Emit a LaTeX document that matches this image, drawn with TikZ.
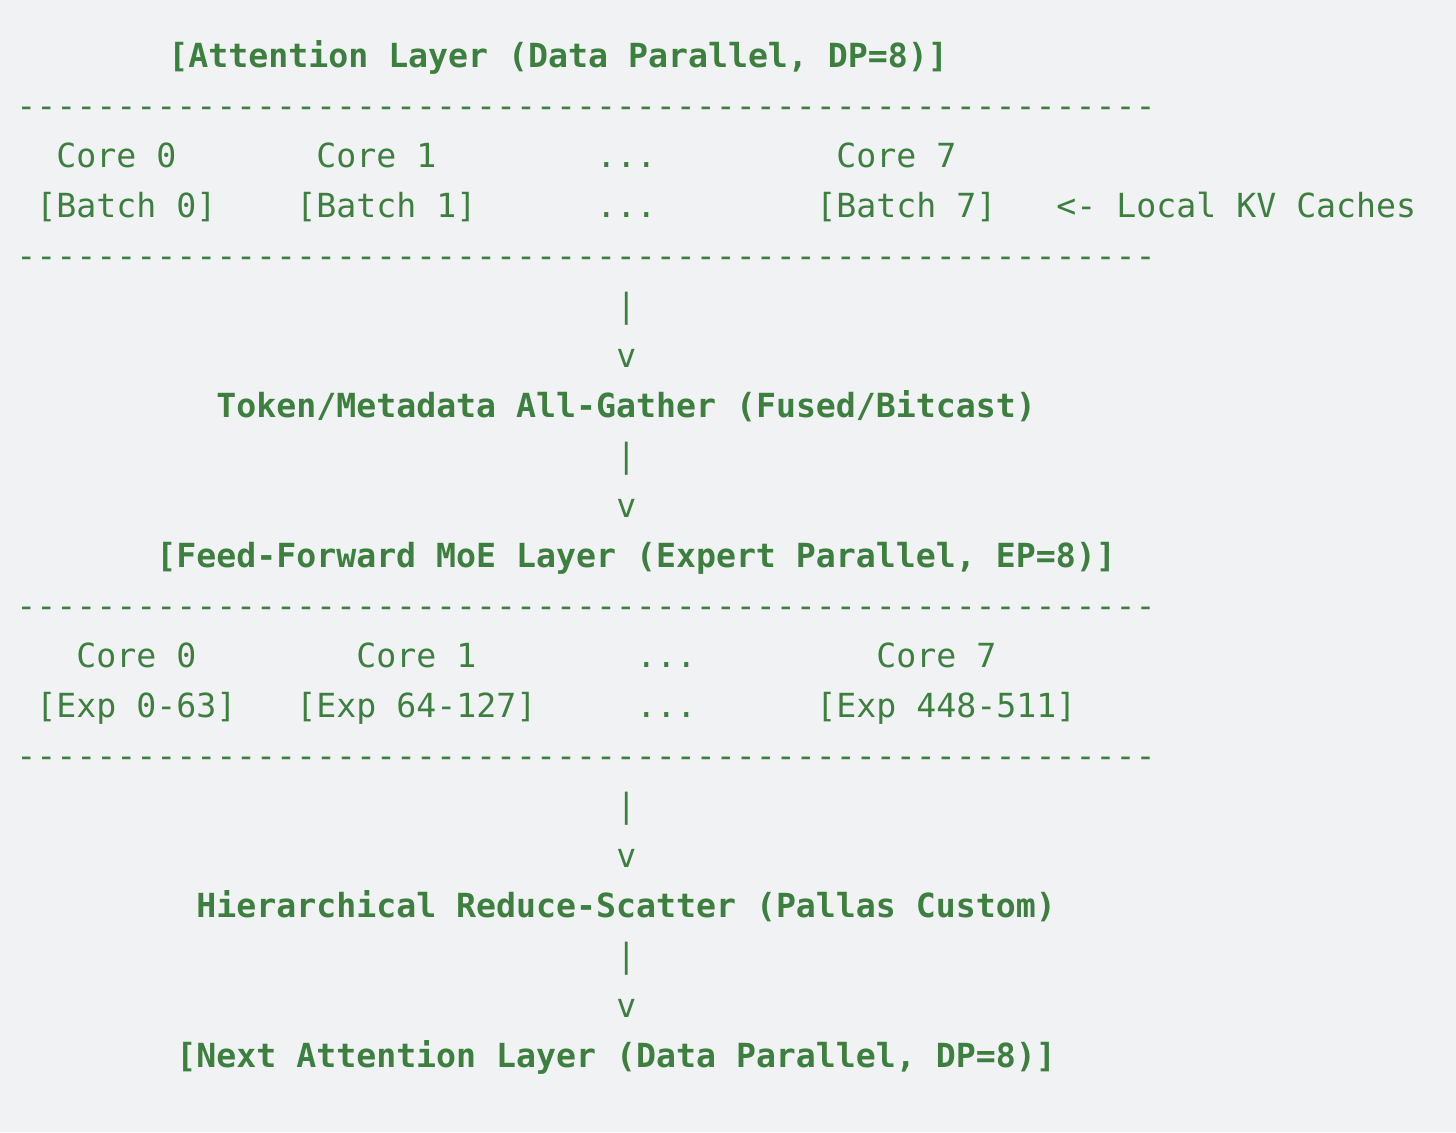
\documentclass[tikz,border=0pt]{standalone}
\usepackage{fontspec}
\setmonofont{DejaVu Sans Mono}
\usepackage{xcolor}
\definecolor{codegreen}{HTML}{3D7F3F}
\definecolor{pagegray}{HTML}{F1F2F4}
\tikzset{%
  ascii/.style={anchor=base west,inner sep=0pt,text=codegreen,
    font=\ttfamily\fontsize{16.6pt}{20pt}\selectfont},%
  asciibold/.style={ascii,font=\ttfamily\bfseries\fontsize{16.6pt}{20pt}\selectfont}%
}
\begin{document}
\begin{tikzpicture}[x=0.5pt,y=-0.5pt]%
          \fill [pagegray] (0,0) rectangle (1456,1132);%
          \useasboundingbox (0,0) rectangle (1456,1132);%
          % attention layer
          \node [asciibold] (attn) at (168,67.5) {[Attention Layer (Data Parallel, DP=8)]};%
          \node [ascii] (ruleA) at (16,117.5) {---------------------------------------------------------};%
          \node [ascii] (acore0) at (56,167.5) {Core 0};%
          \node [ascii] (acore1) at (316,167.5) {Core 1};%
          \node [ascii] (adotsA) at (596,167.5) {...};%
          \node [ascii] (acore7) at (836,167.5) {Core 7};%
          \node [ascii] (batch0) at (36,217.5) {[Batch 0]};%
          \node [ascii] (batch1) at (296,217.5) {[Batch 1]};%
          \node [ascii] (adotsB) at (596,217.5) {...};%
          \node [ascii] (batch7) at (816,217.5) {[Batch 7]};%
          \node [ascii] (kvnote) at (1056,217.5) {<- Local KV Caches};%
          \node [ascii] (ruleB) at (16,267.5) {---------------------------------------------------------};%
          % all-gather
          \node [ascii] (barA) at (616,317.5) {|};%
          \node [ascii] (tipA) at (616,367.5) {v};%
          \node [asciibold] (gather) at (216,417.5) {Token/Metadata All-Gather (Fused/Bitcast)};%
          \node [ascii] (barB) at (616,467.5) {|};%
          \node [ascii] (tipB) at (616,517.5) {v};%
          % moe layer
          \node [asciibold] (moe) at (156,567.5) {[Feed-Forward MoE Layer (Expert Parallel, EP=8)]};%
          \node [ascii] (ruleC) at (16,617.5) {---------------------------------------------------------};%
          \node [ascii] (mcore0) at (76,667.5) {Core 0};%
          \node [ascii] (mcore1) at (356,667.5) {Core 1};%
          \node [ascii] (mdotsA) at (636,667.5) {...};%
          \node [ascii] (mcore7) at (876,667.5) {Core 7};%
          \node [ascii] (exp0) at (36,717.5) {[Exp 0-63]};%
          \node [ascii] (exp1) at (296,717.5) {[Exp 64-127]};%
          \node [ascii] (mdotsB) at (636,717.5) {...};%
          \node [ascii] (exp7) at (816,717.5) {[Exp 448-511]};%
          \node [ascii] (ruleD) at (16,767.5) {---------------------------------------------------------};%
          % reduce-scatter
          \node [ascii] (barC) at (616,817.5) {|};%
          \node [ascii] (tipC) at (616,867.5) {v};%
          \node [asciibold] (scatter) at (196,917.5) {Hierarchical Reduce-Scatter (Pallas Custom)};%
          \node [ascii] (barD) at (616,967.5) {|};%
          \node [ascii] (tipD) at (616,1017.5) {v};%
          \node [asciibold] (nextattn) at (176,1067.5) {[Next Attention Layer (Data Parallel, DP=8)]};%
        \end{tikzpicture}
\end{document}
